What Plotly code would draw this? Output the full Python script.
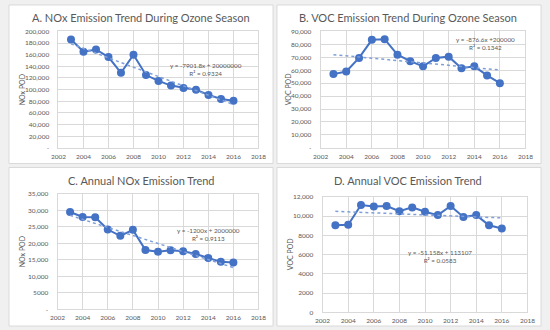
import numpy as np
import plotly.graph_objects as go

years = [2003, 2004, 2005, 2006, 2007, 2008, 2009, 2010, 2011, 2012, 2013, 2014, 2015, 2016]
nox_ozone = [186000, 165000, 169000, 156000, 129000, 160000, 125000, 115000, 107000, 103000, 100000, 91000, 84000, 81000]
voc_ozone = [57000, 59000, 69500, 83500, 84000, 72000, 67000, 63000, 69500, 70500, 61500, 63000, 56000, 50000]
nox_annual = [29500, 28000, 27900, 24200, 22300, 24100, 18000, 17500, 17900, 17600, 16800, 15600, 14400, 14200]
voc_annual = [9050, 9100, 11150, 11000, 11050, 10500, 10900, 10450, 10100, 11050, 9900, 10100, 9050, 8700]

titles = ["A. NOx Emission Trend During Ozone Season",
          "B. VOC Emission Trend During Ozone Season",
          "C. Annual NOx Emission Trend",
          "D. Annual VOC Emission Trend"]
ytitles = ["NOx POD", "VOC POD", "NOx POD", "VOC POD"]
equations = ["y = -7901.8x + 20000000<br>R² = 0.9324",
             "y = -876.6x +200000<br>R² = 0.1342",
             "y = -1200x + 2000000<br>R² = 0.9113",
             "y = -51.158x + 113107<br>R² = 0.0583"]

ticks_a = [0, 20000, 40000, 60000, 80000, 100000, 120000, 140000, 160000, 180000, 200000]
ticktext_a = ["-", "20,000", "40,000", "60,000", "80,000", "100,000", "120,000", "140,000", "160,000", "180,000", "200,000"]
ticks_b = [0, 10000, 20000, 30000, 40000, 50000, 60000, 70000, 80000, 90000]
ticktext_b = ["-", "10,000", "20,000", "30,000", "40,000", "50,000", "60,000", "70,000", "80,000", "90,000"]
ticks_c = [0, 5000, 10000, 15000, 20000, 25000, 30000, 35000]
ticktext_c = ["-", "5000", "10,000", "15,000", "20,000", "25,000", "30,000", "35,000"]
ticks_d = [0, 2000, 4000, 6000, 8000, 10000, 12000]
ticktext_d = ["0", "2000", "4000", "6000", "8000", "10,000", "12,000"]
x_ticks = [2002, 2004, 2006, 2008, 2010, 2012, 2014, 2016, 2018]

W, H = 550, 330
BLUE = "#4472c4"
GRID = "#d9d9d9"
TXT = "#595959"
FONT = "Lato"

series = [nox_ozone, voc_ozone, nox_annual, voc_annual]
yticks = [(ticks_a, ticktext_a), (ticks_b, ticktext_b), (ticks_c, ticktext_c), (ticks_d, ticktext_d)]
# plot areas in pixels: (x0, x1, ytop, ybottom)
areas = [(52, 258, 28, 147), (322, 533, 28, 147), (51, 258, 194, 312), (324, 535, 197, 315)]
panels = [(1, 273, 1, 163), (277, 549, 1, 163), (1, 273, 167, 329), (277, 549, 167, 329)]
title_pos = [(137, 14), (412, 14), (137, 180), (412, 180)]
ytitle_x = [14, 288, 14, 290]
eq_pos = [(204, 67), (492, 40), (207, 235), (445, 258)]

fig = go.Figure()
layout = dict(width=W, height=H, margin=dict(l=0, r=0, t=0, b=0),
              paper_bgcolor="#f0f0f0", plot_bgcolor="white", showlegend=False,
              font=dict(family=FONT, color=TXT))
shapes = []
annotations = []
for i in range(4):
    sfx = "" if i == 0 else str(i + 1)
    xa, ya = "x" + sfx, "y" + sfx
    ys = series[i]
    fig.add_trace(go.Scatter(x=years, y=ys, mode="lines+markers", xaxis=xa, yaxis=ya,
                             line=dict(color=BLUE, width=2), marker=dict(color=BLUE, size=8)))
    slope, icpt = np.polyfit(years, ys, 1)
    tx = [years[0], years[-1]]
    fig.add_trace(go.Scatter(x=tx, y=[slope * t + icpt for t in tx], mode="lines", xaxis=xa, yaxis=ya,
                             line=dict(color="#7f9fd9", width=1.5, dash="dot")))
    x0, x1, yt, yb = areas[i]
    tv, tt = yticks[i]
    layout["xaxis" + sfx] = dict(domain=[x0 / W, x1 / W], range=[2002, 2018], tickvals=x_ticks,
                                 showgrid=True, gridcolor=GRID, gridwidth=1, zeroline=False,
                                 showline=True, linecolor=GRID, mirror=True, anchor=ya,
                                 tickfont=dict(size=6.5, color=TXT, family=FONT), ticks="",
                                 ticklen=0, ticklabelstandoff=2)
    layout["yaxis" + sfx] = dict(domain=[1 - yb / H, 1 - yt / H], range=[tv[0], tv[-1]],
                                 tickvals=tv, ticktext=tt, showgrid=True, gridcolor=GRID, gridwidth=1,
                                 zeroline=False, showline=True, linecolor=GRID, mirror=True, anchor=xa,
                                 tickfont=dict(size=6.5, color=TXT, family=FONT), ticks="",
                                 ticklen=0, ticklabelstandoff=7)
    px0, px1, py0, py1 = panels[i]
    shapes.append(dict(type="rect", xref="paper", yref="paper", x0=px0 / W, x1=px1 / W,
                       y0=1 - py1 / H, y1=1 - py0 / H, fillcolor="white",
                       line=dict(color=GRID, width=1), layer="below"))
    tx_, ty_ = title_pos[i]
    annotations.append(dict(text=titles[i], xref="paper", yref="paper", x=tx_ / W, y=1 - ty_ / H,
                            xanchor="center", yanchor="middle", showarrow=False,
                            font=dict(size=11, color=TXT, family=FONT)))
    annotations.append(dict(text=ytitles[i], xref="paper", yref="paper", x=ytitle_x[i] / W,
                            y=1 - (yt + yb) / 2 / H, textangle=-90, xanchor="center", yanchor="middle",
                            showarrow=False, font=dict(size=7, color=TXT, family=FONT)))
    ex, ey = eq_pos[i]
    annotations.append(dict(text=equations[i], xref="paper", yref="paper", x=ex / W, y=1 - ey / H,
                            xanchor="center", yanchor="middle", showarrow=False, align="center",
                            font=dict(size=6.3, color=TXT, family=FONT)))

layout["shapes"] = shapes
layout["annotations"] = annotations
fig.update_layout(**layout)
fig.write_html("out.html", config={"displayModeBar": False},
               post_script="document.body.style.margin='0';document.body.style.overflow='hidden';")
